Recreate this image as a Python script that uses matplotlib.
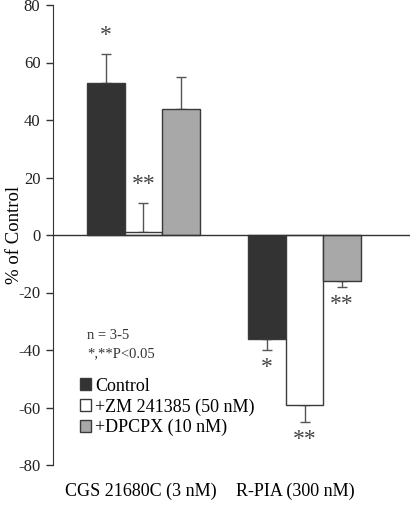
import matplotlib
matplotlib.use("Agg")
import matplotlib.pyplot as plt
import numpy as np
from matplotlib.patches import Patch

# data
groups = ["CGS 21680C (3 nM)", "R-PIA (300 nM)"]
series = ["Control", "+ZM 241385 (50 nM)", "+DPCPX (10 nM)"]
control = [53, -36]
control_err = [10, 4]
zm = [1, -59]
zm_err = [10, 6]
dpcpx = [44, -16]
dpcpx_err = [11, 2]
sig_control = ["*", "*"]
sig_zm = ["**", "**"]
sig_dpcpx = ["", "**"]

colors = ["#333333", "#ffffff", "#a8a8a8"]
edge = "#3a3a3a"

plt.rcParams["font.family"] = ["Liberation Serif", "DejaVu Serif"]
plt.rcParams["axes.unicode_minus"] = False

fig = plt.figure(figsize=(4.14, 5.05), dpi=100)
ax = fig.add_axes([53 / 414, 1 - 465 / 505, (410 - 53) / 414, 460 / 505])

x = np.arange(len(groups))
w = 0.233
offsets = [-w, 0, w]
vals = [control, zm, dpcpx]
errs = [control_err, zm_err, dpcpx_err]
sigs = [sig_control, sig_zm, sig_dpcpx]

for k in range(3):
    v = np.array(vals[k])
    e = np.array(errs[k])
    ax.bar(x + offsets[k], v, w, color=colors[k], edgecolor=edge, linewidth=1, zorder=2)
    # error bars only away from zero
    lower = np.where(v < 0, e, 0)
    upper = np.where(v >= 0, e, 0)
    ax.errorbar(x + offsets[k], v, yerr=[lower, upper], fmt="none", ecolor="#555555",
                elinewidth=1, capsize=3.5, capthick=1, zorder=1)
    for i in range(len(groups)):
        s = sigs[k][i]
        if not s:
            continue
        if v[i] >= 0:
            ax.text(x[i] + offsets[k], v[i] + e[i] + 6.5, s, ha="center", va="center", fontsize=17, color="#444444")
        else:
            ax.text(x[i] + offsets[k], v[i] - e[i] - 6, s, ha="center", va="center", fontsize=17, color="#444444")

ax.axhline(0, color="#333333", linewidth=1, zorder=3)

ax.set_xlim(-0.562, 1.655)
ax.set_ylim(-80, 80)
ax.set_yticks(np.arange(-80, 81, 20))
ax.set_xticks(x + np.array([-0.019, -0.056]))
ax.set_xticklabels(groups, fontsize=13)
ax.tick_params(axis="x", length=0, pad=13)
ax.tick_params(axis="y", direction="out", length=5, width=1, color="#333333", labelsize=12, labelcolor="#222222", pad=4)
for s in ["top", "right", "bottom"]:
    ax.spines[s].set_visible(False)
ax.spines["left"].set_color("#333333")
ax.set_ylabel("% of Control", fontsize=13.5)
ax.yaxis.set_label_coords(-0.083, 0.5)

ax.text(0.096, 0.281, "n = 3-5", transform=ax.transAxes, fontsize=10.5, color="#333333", va="center")
ax.text(0.096, 0.242, "*,**P<0.05", transform=ax.transAxes, fontsize=10.5, color="#333333", va="center")

handles = [Patch(facecolor=colors[k], edgecolor=edge, linewidth=1) for k in range(3)]
ax.legend(handles, series, loc="upper left", bbox_to_anchor=(0.076, 0.19), frameon=False,
          fontsize=13, handlelength=0.62, handleheight=0.62, handletextpad=0.2,
          labelspacing=0.2, borderaxespad=0, borderpad=0)

fig.savefig("out.png", dpi=100)
